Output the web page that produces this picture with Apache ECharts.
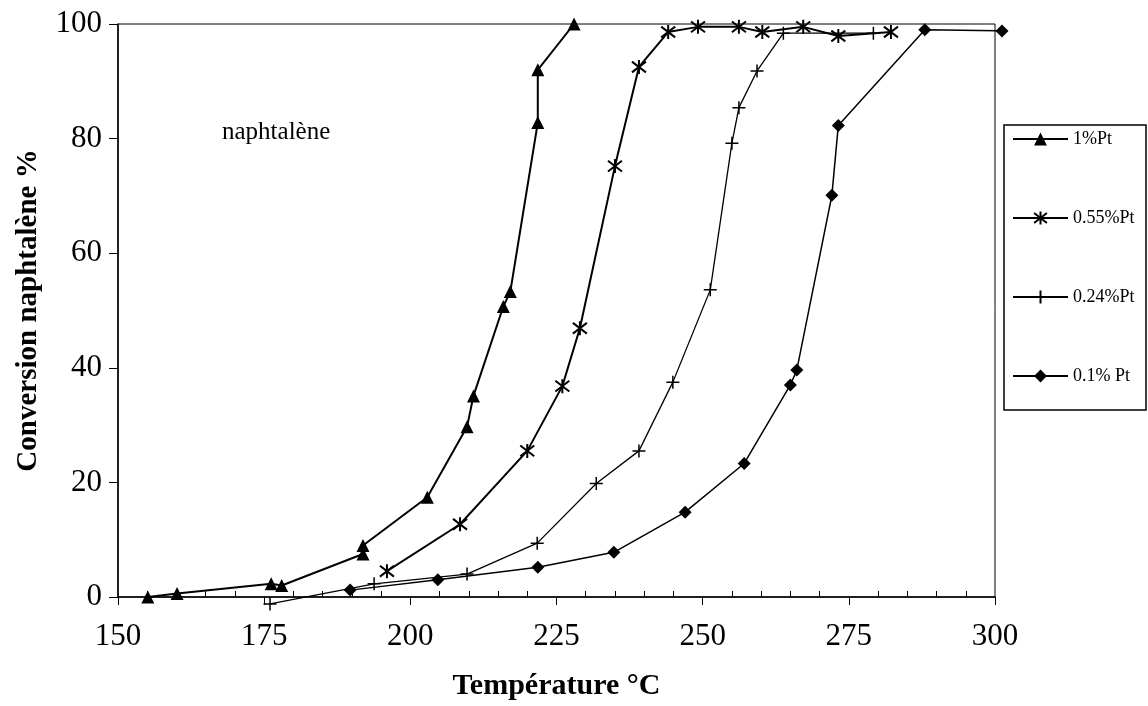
<!DOCTYPE html>
<html>
<head>
<meta charset="utf-8">
<script src="https://cdn.jsdelivr.net/npm/echarts@6/dist/echarts.min.js"></script>
<style>
  html, body { margin: 0; padding: 0; background: #fff; }
  #main { width: 1148px; height: 706px; }
</style>
</head>
<body>
<div id="main"></div>
<script>
// tick labels
const xTicks = [150, 175, 200, 225, 250, 275, 300];
const yTicks = [0, 20, 40, 60, 80, 100];

// 1% Pt
const temp1 = [155.1, 160.1, 176.2, 178.0, 191.9, 191.9, 202.9, 209.7, 210.8, 215.9, 217.1, 221.8, 221.8, 228.0];
const conv1 = [0.0, 0.6, 2.3, 2.0, 7.5, 9.0, 17.4, 29.7, 35.1, 50.7, 53.3, 82.8, 92.0, 100.0];

// 0.55% Pt
const temp055 = [196.0, 208.5, 220.0, 226.0, 229.0, 235.0, 239.1, 244.1, 249.2, 256.2, 260.2, 267.2, 273.2, 282.2];
const conv055 = [4.5, 12.7, 25.5, 36.8, 46.9, 75.2, 92.5, 98.6, 99.5, 99.5, 98.6, 99.5, 97.9, 98.6];

// 0.24% Pt
const temp024 = [176.0, 193.8, 209.7, 221.7, 231.8, 239.1, 244.9, 251.3, 255.0, 256.2, 259.3, 263.8, 279.2];
const conv024 = [-1.2, 2.3, 4.0, 9.4, 19.8, 25.5, 37.5, 53.6, 79.2, 85.4, 91.8, 98.4, 98.4];

// 0.1% Pt
const temp01 = [189.7, 204.7, 221.8, 234.8, 247.0, 257.1, 265.0, 266.1, 272.1, 273.2, 288.0, 301.2];
const conv01 = [1.2, 3.0, 5.2, 7.8, 14.8, 23.3, 37.0, 39.6, 70.1, 82.3, 99.0, 98.8];

const names = ['1%Pt', '0.55%Pt', '0.24%Pt', '0.1% Pt'];

function pairs(xs, ys) {
    return xs.map((x, i) => [x, ys[i]]);
}

const serif = 'Liberation Serif';
const asterisk = 'path://M0,0L10,10M10,0L0,10M5,-1.5L5,11.5';
const plus = 'path://M0,5L10,5M5,0L5,10';

let myChart = echarts.init(document.getElementById('main'));

let option = {
    backgroundColor: '#fff',
    animation: false,
    grid: {
        left: 118, top: 24, right: 153, bottom: 106,
        show: true, borderColor: '#000', borderWidth: 1
    },
    graphic: [
        {
            type: 'text', left: 222, top: 120,
            style: { text: 'naphtalène', font: '25px "Liberation Serif"', fill: '#000' }
        },
        {
            type: 'rect', shape: { x: 1004, y: 125, width: 142, height: 285 },
            style: { fill: 'none', stroke: '#000', lineWidth: 1.5 }
        }
    ],
    legend: {
        orient: 'vertical',
        left: 1003, top: 125,
        padding: [5, 10, 10, 9],
        itemWidth: 55, itemHeight: 16, itemGap: 61,
        textStyle: { fontFamily: serif, fontSize: 18, color: '#000' },
        data: names
    },
    xAxis: [{
        type: 'value', min: 150, max: 300, interval: 25,
        name: 'Température °C', nameLocation: 'middle', nameGap: 74,
        nameTextStyle: { fontFamily: serif, fontSize: 30, fontWeight: 'bold', color: '#000' },
        axisLine: { lineStyle: { color: '#000', width: 1.5 } },
        axisTick: { inside: false, length: 8, lineStyle: { color: '#000' } },
        axisLabel: {
            margin: 24, fontFamily: serif, fontSize: 31, color: '#000',
            formatter: v => xTicks.includes(v) ? String(v) : ''
        },
        splitLine: { show: false }
    }, {
        type: 'value', min: 150, max: 300, interval: 25, position: 'bottom',
        axisLine: { show: false },
        axisTick: { show: false, inside: true },
        minorTick: { show: true, splitNumber: 5, length: 6, lineStyle: { color: '#000' } },
        axisLabel: { show: false },
        splitLine: { show: false }
    }],
    yAxis: {
        type: 'value', min: 0, max: 100, interval: 20,
        name: 'Conversion naphtalène %', nameLocation: 'middle', nameGap: 75,
        nameTextStyle: { fontFamily: serif, fontSize: 29, fontWeight: 'bold', color: '#000' },
        axisLine: { lineStyle: { color: '#000', width: 1.5 } },
        axisTick: { length: 9, lineStyle: { color: '#000' } },
        axisLabel: {
            margin: 16, fontFamily: serif, fontSize: 31, color: '#000',
            formatter: v => yTicks.includes(v) ? String(v) : ''
        },
        splitLine: { show: false }
    },
    series: [
        {
            name: names[0], type: 'line', clip: false,
            symbol: 'triangle', symbolSize: 13,
            itemStyle: { color: '#000' },
            lineStyle: { color: '#000', width: 2 },
            data: pairs(temp1, conv1)
        },
        {
            name: names[1], type: 'line', clip: false,
            symbol: asterisk, symbolSize: 14,
            itemStyle: { color: 'rgba(0,0,0,0)', borderColor: '#000', borderWidth: 2 },
            lineStyle: { color: '#000', width: 2 },
            data: pairs(temp055, conv055)
        },
        {
            name: names[2], type: 'line', clip: false,
            symbol: plus, symbolSize: 13,
            itemStyle: { color: 'rgba(0,0,0,0)', borderColor: '#000', borderWidth: 1.5 },
            lineStyle: { color: '#000', width: 1.3 },
            data: pairs(temp024, conv024)
        },
        {
            name: names[3], type: 'line', clip: false,
            symbol: 'diamond', symbolSize: 13,
            itemStyle: { color: '#000' },
            lineStyle: { color: '#000', width: 1.5 },
            data: pairs(temp01, conv01)
        }
    ]
};

myChart.setOption(option);
</script>
</body>
</html>
